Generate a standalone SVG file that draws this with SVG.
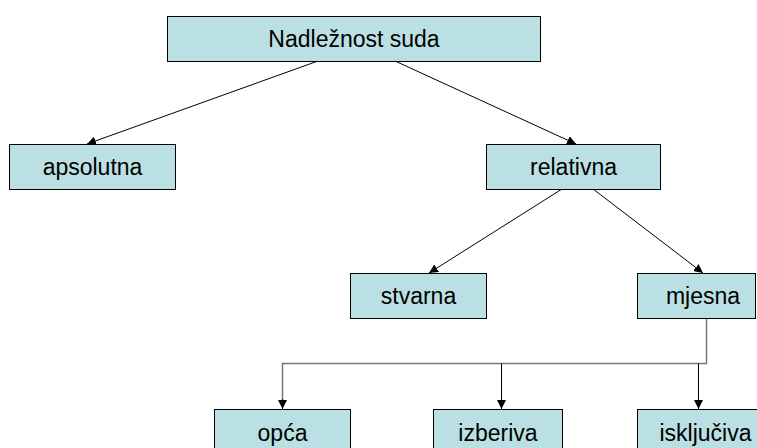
<svg xmlns="http://www.w3.org/2000/svg" width="757" height="448" viewBox="0 0 757 448">
<defs>
<style>
.box{fill:#BBE0E3;stroke:#000;stroke-width:1}
.lbl{font-family:"Liberation Sans",Arial,sans-serif;font-size:23px;fill:#000;text-anchor:middle}
.ln{fill:none;stroke:#000;stroke-width:1}
.el{fill:none;stroke:#777;stroke-width:1.5}
</style>
<marker id="arr" viewBox="0 0 10 10" refX="10" refY="5" markerWidth="9" markerHeight="9" markerUnits="userSpaceOnUse" orient="auto">
<path d="M0,0 L10,5 L0,10 z" fill="#000"/>
</marker>
</defs>
<rect width="757" height="448" fill="#fff"/>
<g id="connectors">
<line class="ln" x1="318" y1="61" x2="87" y2="144" marker-end="url(#arr)"/>
<line class="ln" x1="395" y1="61" x2="576" y2="144" marker-end="url(#arr)"/>
<line class="ln" x1="562" y1="189" x2="429" y2="273" marker-end="url(#arr)"/>
<line class="ln" x1="593" y1="189" x2="703" y2="273" marker-end="url(#arr)"/>
<polyline class="el" points="706.5,319 706.5,363.5 282.5,363.5 282.5,400"/>
<line class="ln" x1="282.5" y1="399" x2="282.5" y2="409" marker-end="url(#arr)"/>
<line class="ln" x1="501.5" y1="363.5" x2="501.5" y2="409" marker-end="url(#arr)"/>
<line class="ln" x1="698.5" y1="363.5" x2="698.5" y2="409" marker-end="url(#arr)"/>
</g>
<g id="nadleznost">
<rect class="box" x="167.5" y="16.5" width="373" height="45"/>
<text class="lbl" x="354" y="47">Nadležnost suda</text>
</g>
<g id="apsolutna">
<rect class="box" x="9.5" y="144.5" width="166" height="45"/>
<text class="lbl" x="92.5" y="175">apsolutna</text>
</g>
<g id="relativna">
<rect class="box" x="486.5" y="144.5" width="174" height="45"/>
<text class="lbl" x="573.5" y="175">relativna</text>
</g>
<g id="stvarna">
<rect class="box" x="350.5" y="273.5" width="136" height="45"/>
<text class="lbl" x="418.5" y="304">stvarna</text>
</g>
<g id="mjesna">
<rect class="box" x="637.5" y="273.5" width="118" height="45"/>
<text class="lbl" x="703" y="304">mjesna</text>
</g>
<g id="opca">
<rect class="box" x="214.5" y="409.5" width="136" height="45"/>
<text class="lbl" x="282.5" y="441">opća</text>
</g>
<g id="izberiva">
<rect class="box" x="433.5" y="409.5" width="129" height="45"/>
<text class="lbl" x="498" y="441">izberiva</text>
</g>
<g id="iskljuciva">
<rect class="box" x="637.5" y="409.5" width="136" height="45"/>
<text class="lbl" x="705.5" y="441">isključiva</text>
</g>
</svg>
